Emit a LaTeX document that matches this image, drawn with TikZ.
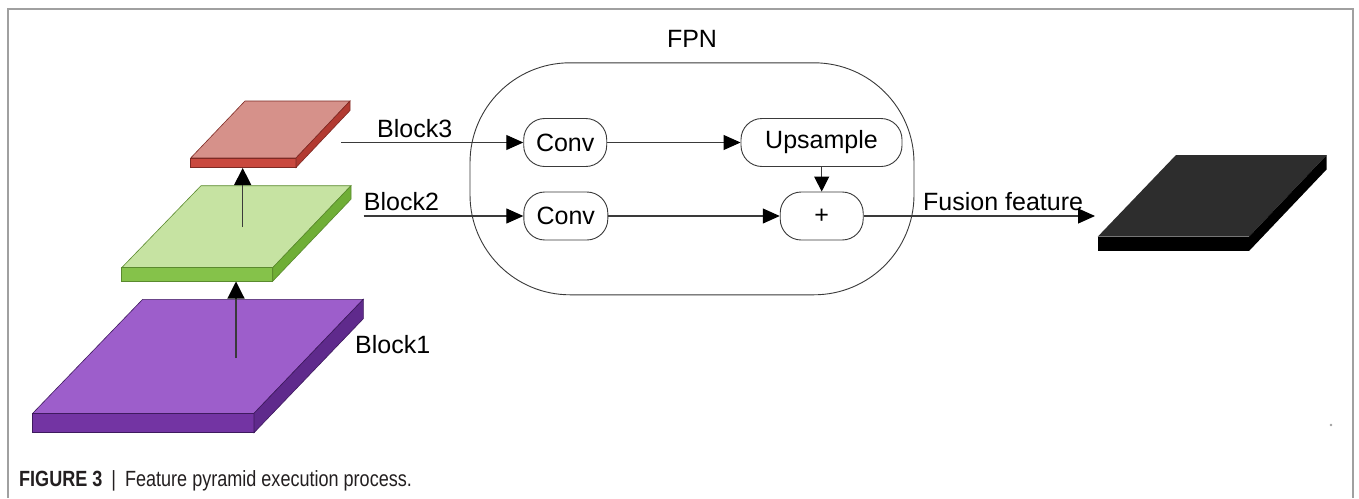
\documentclass[tikz,border=0pt]{standalone}
\usepackage{fontspec}
\setmainfont{Liberation Sans}
\usetikzlibrary{arrows.meta}

\definecolor{framegray}{HTML}{A0A0A0}
\definecolor{linegray}{HTML}{3A3A3A}
\definecolor{redtop}{HTML}{D6918A}
\definecolor{redfront}{HTML}{C9493F}
\definecolor{redside}{HTML}{B23A31}
\definecolor{rededge}{HTML}{7E2A24}
\definecolor{greentop}{HTML}{C6E3A2}
\definecolor{greenfront}{HTML}{85C24A}
\definecolor{greenside}{HTML}{6FAE36}
\definecolor{greenedge}{HTML}{5A8A2E}
\definecolor{purptop}{HTML}{9D5ECB}
\definecolor{purpfront}{HTML}{7334A3}
\definecolor{purpside}{HTML}{5F2A8C}
\definecolor{purpedge}{HTML}{3E1A5E}
\definecolor{blacktop}{HTML}{2D2D2D}
\definecolor{captext}{HTML}{231F20}

\tikzset{
  lbl/.style={font=\fontsize{25}{30}\selectfont, text=black, inner sep=0pt},
  opbox/.style={draw=linegray, line width=0.9pt, rounded corners=21pt,
    minimum height=48pt, inner sep=0pt, font=\fontsize{25}{30}\selectfont},
  flow/.style={draw=linegray, line width=1.1pt,
    -{Triangle[length=17pt,width=15pt,color=black]}},
  shortflow/.style={draw=linegray, line width=1.1pt,
    -{Triangle[length=15pt,width=15pt,color=black]}},
  upflow/.style={draw=linegray, line width=1.1pt,
    -{Triangle[length=17pt,width=17pt,color=black]}},
}

% a plate: top face corners BL, BR, FR, FL (pixel units, y down), thickness t
\newcommand{\plate}[9]{%
  % #1 BLx #2 BRx #3 FRx #4 FLx #5 back y #6 front y #7 thickness #8 colour prefix #9 edge colour
  \filldraw[fill=#8top, draw=#9, line width=0.6pt]
    (#1,#5) -- (#2,#5) -- (#3,#6) -- (#4,#6) -- cycle;
  \filldraw[fill=#8front, draw=#9, line width=0.6pt]
    (#4,#6) -- (#3,#6) -- (#3,#6+#7) -- (#4,#6+#7) -- cycle;
  \filldraw[fill=#8side, draw=#9, line width=0.6pt]
    (#3,#6) -- (#2,#5) -- (#2,#5+#7) -- (#3,#6+#7) -- cycle;
}

\begin{document}
\begin{tikzpicture}[x=1pt, y=-1pt]
  \useasboundingbox (0,0) rectangle (1359,498);
  \fill[white] (0,0) rectangle (1359,498);

  % figure frame
  \draw[framegray, line width=1.5pt] (8,498) -- (8,9) -- (1353,9) -- (1353,498);
  \fill[framegray] (1331,425) circle (1.3pt);

  % backbone feature maps
  \plate{142.7}{363.3}{254}{32.7}{299.3}{413.3}{19.4}{purp}{purpedge}
  \plate{201}{351}{272.7}{121.7}{185.7}{267.7}{13.5}{green}{greenedge}
  \plate{245}{350}{296}{190.7}{101}{158}{9.5}{red}{rededge}

  % fused output map
  \fill[blacktop] (1176,155) -- (1326.7,155) -- (1249,236.7) -- (1097.7,236.7) -- cycle;
  \fill[black] (1097.7,236.7) -- (1249,236.7) -- (1249,251) -- (1097.7,251) -- cycle;
  \fill[black] (1249,236.7) -- (1326.7,155) -- (1326.7,169.3) -- (1249,251) -- cycle;

  % bottom-up pathway
  \coordinate (p1) at (236,358);
  \coordinate (g1) at (236,281.5);
  \coordinate (g2) at (242.7,227);
  \coordinate (r1) at (242.7,168);
  \draw[upflow] (p1) -- (g1);
  \draw[upflow] (g2) -- (r1);

  % FPN container
  \node[draw=linegray, line width=0.9pt, rounded corners=100pt,
        minimum width=444pt, minimum height=232pt, inner sep=0pt] (fpn) at (692,178.8) {};
  \node[lbl, anchor=base] (fpnlbl) at (692,47) {FPN};

  % operators
  \node[opbox, minimum width=83pt] (conv1) at (565.2,142.5) {Conv};
  \node[opbox, minimum width=161pt] (up) at (821.5,142.5) {Upsample};
  \node[opbox, minimum width=84pt] (conv2) at (565.8,216) {Conv};
  \node[opbox, minimum width=83pt] (plus) at (821.7,216) {+};

  % inputs and labels
  \coordinate (b3) at (341,142.5);
  \coordinate (b2) at (363.7,216);
  \coordinate (out) at (1095,216);
  \node[lbl, anchor=base west] (l3) at (377,137) {Block3};
  \node[lbl, anchor=base west] (l2) at (363.7,210) {Block2};
  \node[lbl, anchor=base west] (l1) at (355,353.3) {Block1};
  \node[lbl, anchor=base west] (lf) at (923,210.7) {Fusion feature};

  % connectors
  \draw[flow] (b3) -- (conv1.west);
  \draw[flow] (b2) -- (conv2.west);
  \draw[flow] (conv1.east) -- (up.west);
  \draw[flow] (conv2.east) -- (plus.west);
  \draw[shortflow] (up.south -| plus.north) -- (plus.north);
  \draw[flow] (plus.east) -- (out);

  % caption
  \node[anchor=base west, inner sep=0pt, text=captext,
        font=\fontsize{22}{26}\selectfont] (cap) at (19,486.7)
    {\scalebox{0.82}[1]{\textbf{FIGURE 3}\enspace|\enspace Feature pyramid execution process.}};
\end{tikzpicture}
\end{document}
